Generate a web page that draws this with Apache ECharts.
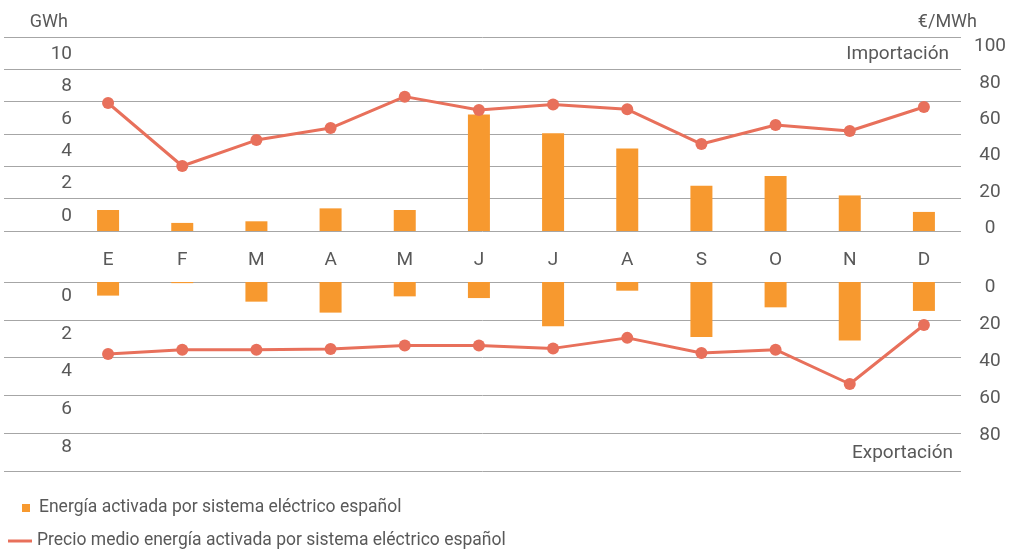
<!DOCTYPE html>
<html><head><meta charset="utf-8">
<script src="https://cdn.jsdelivr.net/npm/echarts@6/dist/echarts.min.js"></script>
<style>html,body{margin:0;padding:0;background:#fff}#c{width:1019px;height:551px}</style>
</head><body><div id="c"></div>
<script>
const months = ['E','F','M','A','M','J','J','A','S','O','N','D'];
const importGWh = [1.3, 0.5, 0.6, 1.4, 1.3, 7.2, 6.05, 5.1, 2.8, 3.4, 2.2, 1.18];
const importPrice = [69.0, 34.3, 48.6, 55.2, 72.5, 65.1, 68.2, 65.5, 46.4, 56.9, 53.6, 66.8];
const exportGWh = [0.72, 0.06, 1.04, 1.62, 0.76, 0.85, 2.34, 0.46, 2.91, 1.34, 3.1, 1.53];
const exportPrice = [36.0, 33.7, 33.7, 33.3, 31.5, 31.5, 33.0, 27.3, 35.5, 33.7, 52.3, 20.3];
const barName = 'Energía activada por sistema eléctrico español';
const lineName = 'Precio medio energía activada por sistema eléctrico español';

const gridColor = '#A6A6A6';
const txt = '#595959';
const font = 'Roboto';
const barColor = '#F7992F';
const lineColor = '#E8705B';
const L = 71, R = 58;
const hideAx = {axisLine:{show:false},axisTick:{show:false},axisLabel:{show:false},splitLine:{show:false}};

const chart = echarts.init(document.getElementById('c'), null, {renderer:'canvas'});
chart.setOption({
  animation:false,
  textStyle:{fontFamily:font},
  grid:[
    {left:4,right:R,top:37,height:194},
    {left:L,right:R,top:37,height:194},
    {left:80,right:R,top:22,height:194},
    {left:L,right:R,top:46.7,height:181.6},
    {left:4,right:R,top:282,height:189},
    {left:L,right:R,top:282,height:189},
    {left:80,right:R,top:296,height:189},
    {left:L,right:R,top:287.5,height:147.6}
  ],
  xAxis:[
    {gridIndex:0,type:'value',min:0,max:1,show:false},
    {gridIndex:1,type:'category',data:months,axisLine:{show:false},axisTick:{show:false},
      axisLabel:{margin:20,color:txt,fontSize:19,fontFamily:font}},
    {gridIndex:2,type:'value',min:0,max:1,show:false},
    {gridIndex:3,type:'category',data:months,show:false},
    {gridIndex:4,type:'value',min:0,max:1,show:false},
    {gridIndex:5,type:'category',data:months,show:false},
    {gridIndex:6,type:'value',min:0,max:1,show:false},
    {gridIndex:7,type:'category',data:months,show:false}
  ],
  yAxis:[
    Object.assign({gridIndex:0,type:'value',min:0,max:12,interval:2}, hideAx,
      {splitLine:{show:true,lineStyle:{color:gridColor,width:1}}}),
    {gridIndex:1,type:'value',min:0,max:12,interval:2,show:false},
    Object.assign({gridIndex:2,type:'value',min:0,max:12,interval:2}, hideAx,
      {axisLabel:{show:true,margin:8,color:txt,fontSize:19,fontFamily:font,formatter:v=> v<=10 ? String(v) : ''}}),
    Object.assign({gridIndex:3,type:'value',position:'right',min:0,max:100,interval:20}, hideAx,
      {axisLabel:{show:true,align:'center',margin:29,color:txt,fontSize:19,fontFamily:font}}),
    Object.assign({gridIndex:4,type:'value',inverse:true,min:0,max:10,interval:2}, hideAx,
      {splitLine:{show:true,lineStyle:{color:gridColor,width:1}}}),
    {gridIndex:5,type:'value',inverse:true,min:0,max:10,interval:2,show:false},
    Object.assign({gridIndex:6,type:'value',inverse:true,min:0,max:10,interval:2}, hideAx,
      {axisLabel:{show:true,margin:8,color:txt,fontSize:19,fontFamily:font,formatter:v=> v<=8 ? String(v) : ''}}),
    Object.assign({gridIndex:7,type:'value',position:'right',inverse:true,min:0,max:80,interval:20}, hideAx,
      {axisLabel:{show:true,align:'center',margin:29,color:txt,fontSize:19,fontFamily:font}})
  ],
  legend:[
    {data:[{name:barName,icon:'rect'}],left:22,top:499,padding:0,itemWidth:8,itemHeight:8,selectedMode:false,
      textStyle:{fontSize:17.5,color:txt,fontFamily:font,padding:[0,0,0,4]}},
    {data:[{name:lineName,icon:'rect'}],left:8,top:532,padding:0,itemWidth:24,itemHeight:3,selectedMode:false,
      textStyle:{fontSize:17.5,color:txt,fontFamily:font}}
  ],
  graphic:[
    {type:'text',x:68,y:22,style:{text:'GWh',align:'right',verticalAlign:'middle',fill:txt,font:'18px '+font}},
    {type:'text',x:977,y:22,style:{text:'€/MWh',align:'right',verticalAlign:'middle',fill:txt,font:'18px '+font}},
    {type:'text',x:949,y:54,style:{text:'Importación',align:'right',verticalAlign:'middle',fill:txt,font:'19px '+font}},
    {type:'text',x:953,y:453,style:{text:'Exportación',align:'right',verticalAlign:'middle',fill:txt,font:'19px '+font}}
  ],
  series:[
    {name:barName,type:'bar',xAxisIndex:1,yAxisIndex:1,data:importGWh,barWidth:22,itemStyle:{color:barColor},z:2},
    {name:barName,type:'bar',xAxisIndex:5,yAxisIndex:5,data:exportGWh,barWidth:22,itemStyle:{color:barColor},z:2},
    {name:lineName,type:'line',xAxisIndex:3,yAxisIndex:3,data:importPrice,symbol:'circle',symbolSize:12,
      itemStyle:{color:lineColor},lineStyle:{color:lineColor,width:3},z:3},
    {name:lineName,type:'line',xAxisIndex:7,yAxisIndex:7,data:exportPrice,symbol:'circle',symbolSize:12,
      itemStyle:{color:lineColor},lineStyle:{color:lineColor,width:3},z:3}
  ]
});
</script></body></html>
